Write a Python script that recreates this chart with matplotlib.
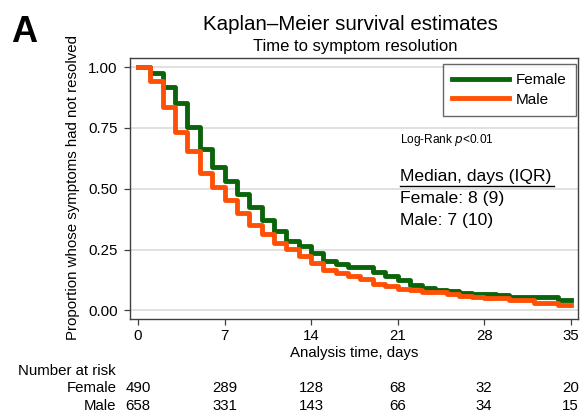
import matplotlib
matplotlib.use("Agg")
import matplotlib.pyplot as plt
import matplotlib.transforms as mtransforms
import numpy as np

plt.rcParams['font.family'] = ['Liberation Sans', 'DejaVu Sans']

# step estimates, value held over [day, day+1)
days = np.arange(0, 36)
female_surv = [1.0, 0.977, 0.919, 0.852, 0.753, 0.665, 0.588, 0.532, 0.477, 0.425,
               0.372, 0.326, 0.284, 0.265, 0.238, 0.205, 0.192, 0.179, 0.179, 0.156,
               0.142, 0.124, 0.105, 0.094, 0.086, 0.079, 0.072, 0.069, 0.069, 0.065,
               0.055, 0.055, 0.055, 0.055, 0.044, 0.044]
male_surv = [1.0, 0.941, 0.836, 0.734, 0.657, 0.566, 0.508, 0.452, 0.400, 0.350,
             0.314, 0.279, 0.251, 0.225, 0.193, 0.166, 0.154, 0.141, 0.131, 0.110,
             0.099, 0.090, 0.083, 0.076, 0.076, 0.066, 0.058, 0.054, 0.051, 0.051,
             0.041, 0.041, 0.032, 0.032, 0.024, 0.024]

risk_times = [0, 7, 14, 21, 28, 35]
risk_female = [490, 289, 128, 68, 32, 20]
risk_male = [658, 331, 143, 66, 34, 15]

green = '#0a640a'
orange = '#ff5005'
frame = '#404040'

W, H = 581, 413
fig = plt.figure(figsize=(W / 100, H / 100), dpi=100)


def fx(px):
    return px / W


def fy(py):
    return 1 - py / H


ax = fig.add_axes([fx(129.5), fy(319), fx(577.5) - fx(129.5), fy(58) - fy(319)])

ax.step(days, female_surv, where='post', color=green, lw=3.5, label='Female', zorder=3)
ax.step(days, male_surv, where='post', color=orange, lw=3.5, label='Male', zorder=4)

ax.set_xlim(-0.69, 35.56)
ax.set_ylim(-0.035, 1.037)
ax.set_xticks(risk_times)
ax.set_yticks([0, 0.25, 0.5, 0.75, 1.0])
ax.set_yticklabels(['0.00', '0.25', '0.50', '0.75', '1.00'])
ax.grid(axis='y', color='#dcdcdc', lw=1.2, zorder=0)
ax.set_axisbelow(True)
for s in ax.spines.values():
    s.set_color(frame)
    s.set_linewidth(1.0)
ax.tick_params(axis='x', length=4, width=0.9, color=frame, labelsize=10.8, pad=3)
ax.tick_params(axis='y', length=4.5, width=0.9, color=frame, labelsize=10.8, pad=4)

leg = ax.legend(loc='upper right', bbox_to_anchor=(fx(575.5), fy(64)),
                bbox_transform=fig.transFigure, fontsize=11, frameon=True,
                fancybox=False, handlelength=3.7, handletextpad=0.45,
                borderpad=0.6, labelspacing=0.36, borderaxespad=0)
leg.get_frame().set_edgecolor(frame)
leg.get_frame().set_linewidth(1.0)
for h in leg.get_lines():
    h.set_linewidth(3.5)

# titles and labels
fig.text(fx(24.5), fy(32), 'A', fontsize=26, fontweight='bold', ha='center', va='center')
fig.text(fx(350), fy(25), 'Kaplan\u2013Meier survival estimates', fontsize=14.8,
         ha='center', va='center')
fig.text(fx(355), fy(46), 'Time to symptom resolution', fontsize=12,
         ha='center', va='center')
fig.text(fx(73), fy(188), 'Proportion whose symptoms had not resolved', fontsize=10.8,
         rotation=90, ha='center', va='center')
fig.text(fx(354), fy(353), 'Analysis time, days', fontsize=10.8, ha='center', va='center')

fig.text(fx(399.5), fy(140.5), 'Log-Rank $\\it{p}$<0.01', fontsize=8.6, ha='left', va='center')
fig.text(fx(399.5), fy(177), 'Median, days (IQR)', fontsize=12.6, ha='left', va='center')
fig.lines.append(plt.Line2D([fx(399.5), fx(553.5)], [fy(186), fy(186)],
                            transform=fig.transFigure, color='black', lw=1.0))
fig.text(fx(399.5), fy(198.5), 'Female: 8 (9)', fontsize=12.6, ha='left', va='center')
fig.text(fx(399.5), fy(221), 'Male: 7 (10)', fontsize=12.6, ha='left', va='center')

# number at risk table
fig.text(fx(18), fy(371), 'Number at risk', fontsize=10.8, ha='left', va='center')
fig.text(fx(116.5), fy(388.5), 'Female', fontsize=10.8, ha='right', va='center')
fig.text(fx(116.5), fy(406), 'Male', fontsize=10.8, ha='right', va='center')
trans = mtransforms.blended_transform_factory(ax.transData, fig.transFigure)
for t, nf, nm in zip(risk_times, risk_female, risk_male):
    ax.text(t, fy(388.5), str(nf), transform=trans, fontsize=10.8,
            ha='center', va='center', clip_on=False)
    ax.text(t, fy(406), str(nm), transform=trans, fontsize=10.8,
            ha='center', va='center', clip_on=False)

fig.savefig('out.png', dpi=100)
